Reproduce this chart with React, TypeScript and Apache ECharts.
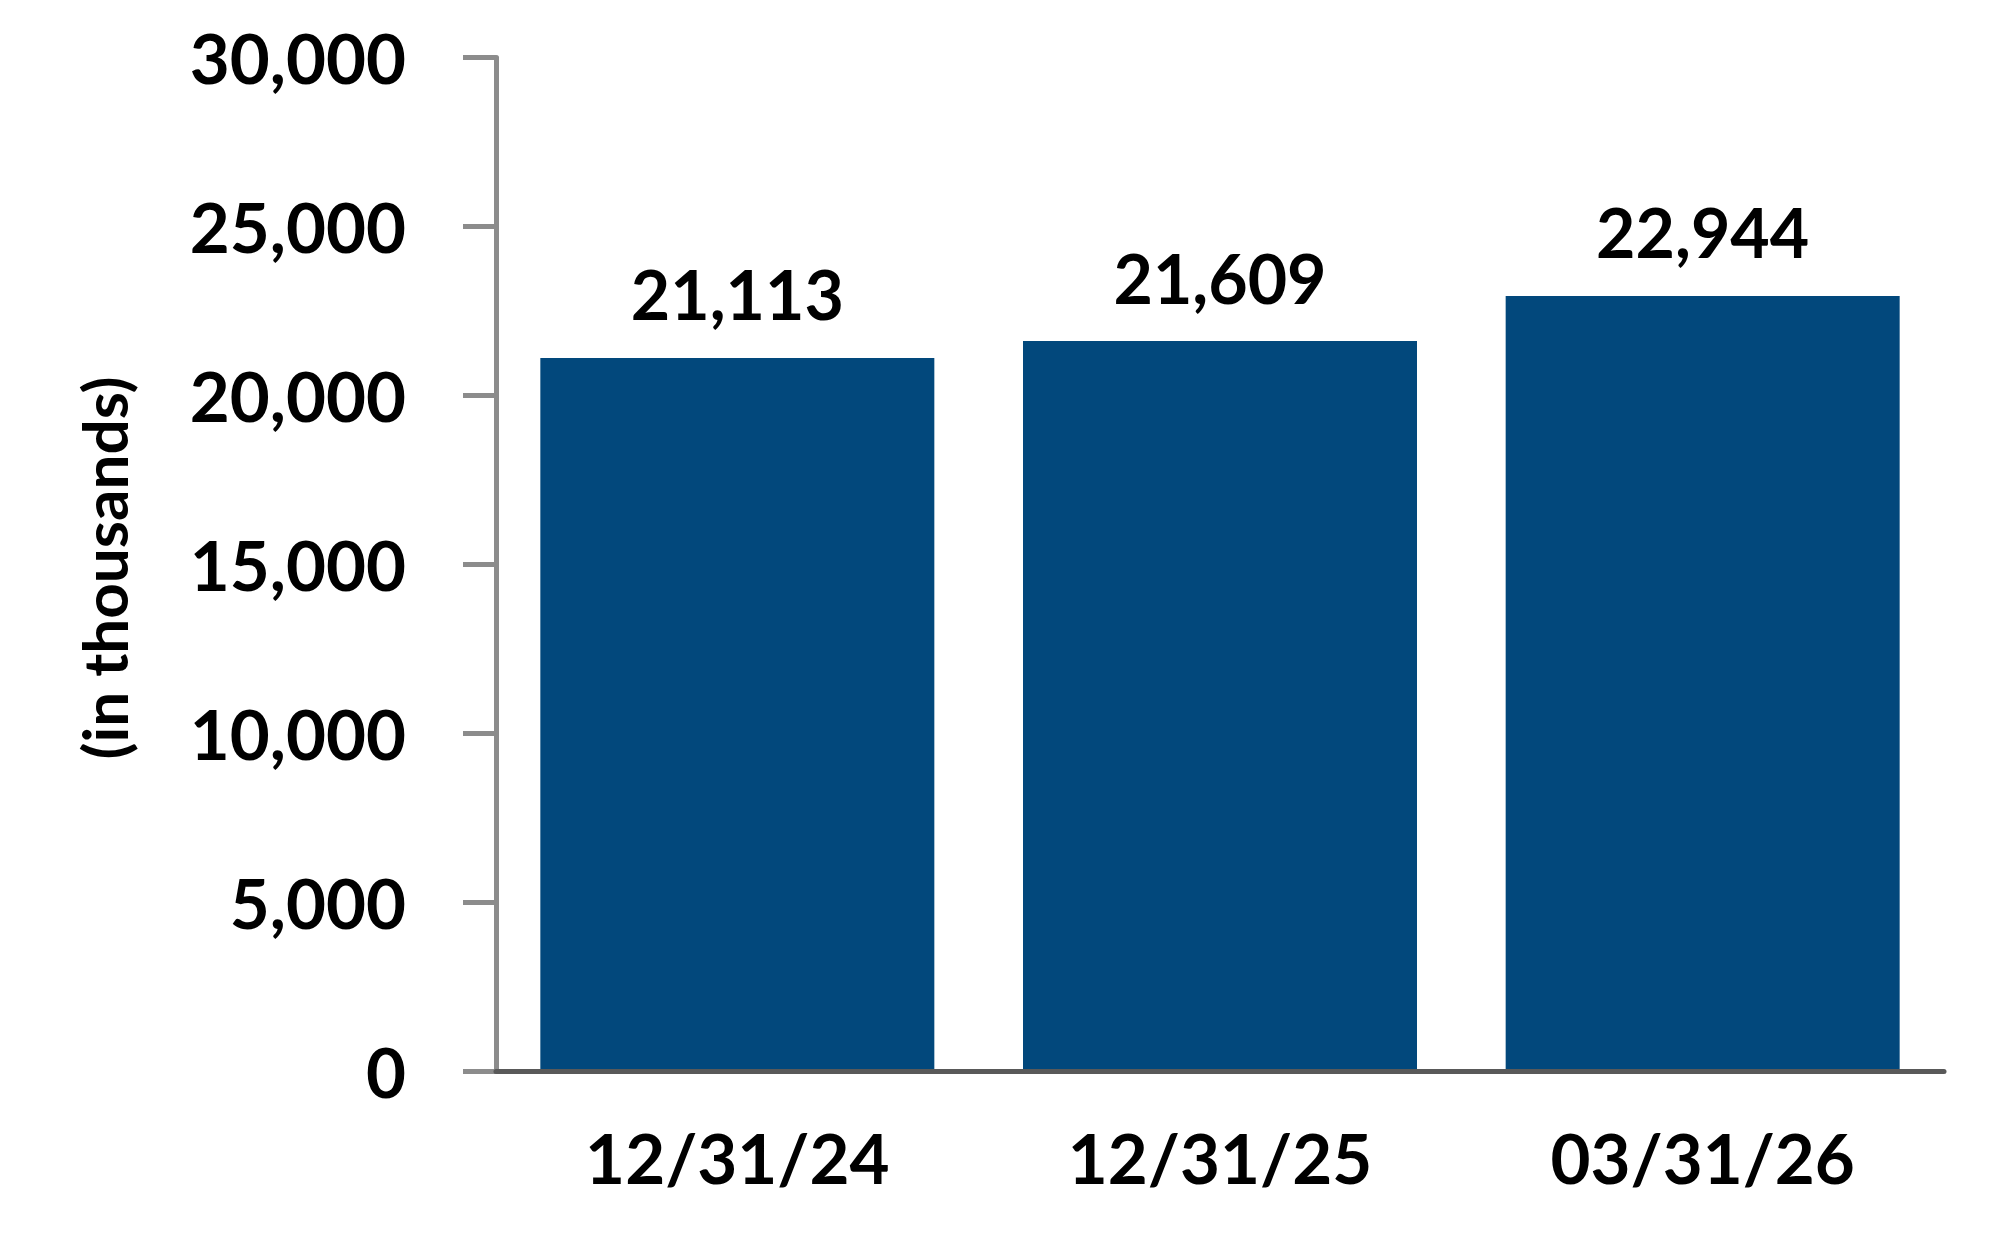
import React, { useEffect, useRef } from 'react'
import * as echarts from 'echarts'

// datos
const fechas = ['12/31/24', '12/31/25', '03/31/26']
const totales = [21113, 21609, 22944]
const ejeY = { min: 0, max: 30000, interval: 5000 }
const tituloEje = '(in thousands)'

const FUENTE = 'Lato'
const AZUL = '#02487C'
const GRIS = '#8C8C8C'
const GRIS_OSCURO = '#595959'

const formatear = (v: number) => v.toLocaleString('en-US')

const BarrasTotales = () => {
	const chartRef = useRef<HTMLDivElement>(null)

	useEffect(() => {
		const chartInstance = echarts.init(chartRef.current, null, {
			renderer: 'svg',
		})

		const options = {
			animation: false,
			backgroundColor: '#ffffff',
			grid: {
				left: 496,
				right: 60,
				top: 57.5,
				bottom: 188.5,
			},
			xAxis: {
				type: 'category',
				data: fechas,
				z: 10,
				axisLine: {
					lineStyle: { color: GRIS_OSCURO, width: 5 },
				},
				axisTick: {
					alignWithLabel: true,
					length: 31,
					lineStyle: { color: GRIS, width: 3 },
				},
				axisLabel: {
					margin: 51,
					color: '#000',
					fontFamily: FUENTE,
					fontWeight: 'bold',
					fontSize: 69,
				},
			},
			yAxis: {
				type: 'value',
				min: ejeY.min,
				max: ejeY.max,
				interval: ejeY.interval,
				splitLine: { show: false },
				axisLine: {
					show: true,
					lineStyle: { color: GRIS, width: 5 },
				},
				axisTick: {
					show: true,
					length: 33,
					lineStyle: { color: GRIS, width: 5 },
				},
				axisLabel: {
					margin: 90,
					color: '#000',
					fontFamily: FUENTE,
					fontWeight: 'bold',
					fontSize: 69,
					formatter: (v: number) => formatear(v),
				},
			},
			graphic: [
				{
					type: 'text',
					x: 104,
					y: 568,
					rotation: Math.PI / 2,
					style: {
						text: tituloEje,
						align: 'center',
						verticalAlign: 'middle',
						fill: '#000',
						fontFamily: FUENTE,
						fontWeight: 'bold',
						fontSize: 62,
					},
				},
			],
			series: [
				{
					type: 'bar',
					data: totales,
					barWidth: 394,
					itemStyle: { color: AZUL },
					label: {
						show: true,
						position: 'top',
						distance: 30,
						color: '#000',
						fontFamily: FUENTE,
						fontWeight: 'bold',
						fontSize: 68,
						formatter: (p: any) => formatear(p.value),
					},
				},
			],
		}

		chartInstance.setOption(options)

		return () => {
			chartInstance.dispose()
		}
	}, [])

	return (
		<div
			ref={chartRef}
			style={{ position: 'fixed', left: 0, top: 0, width: '2004px', height: '1260px' }}
		/>
	)
}

export default function App() {
	return <BarrasTotales />
}
